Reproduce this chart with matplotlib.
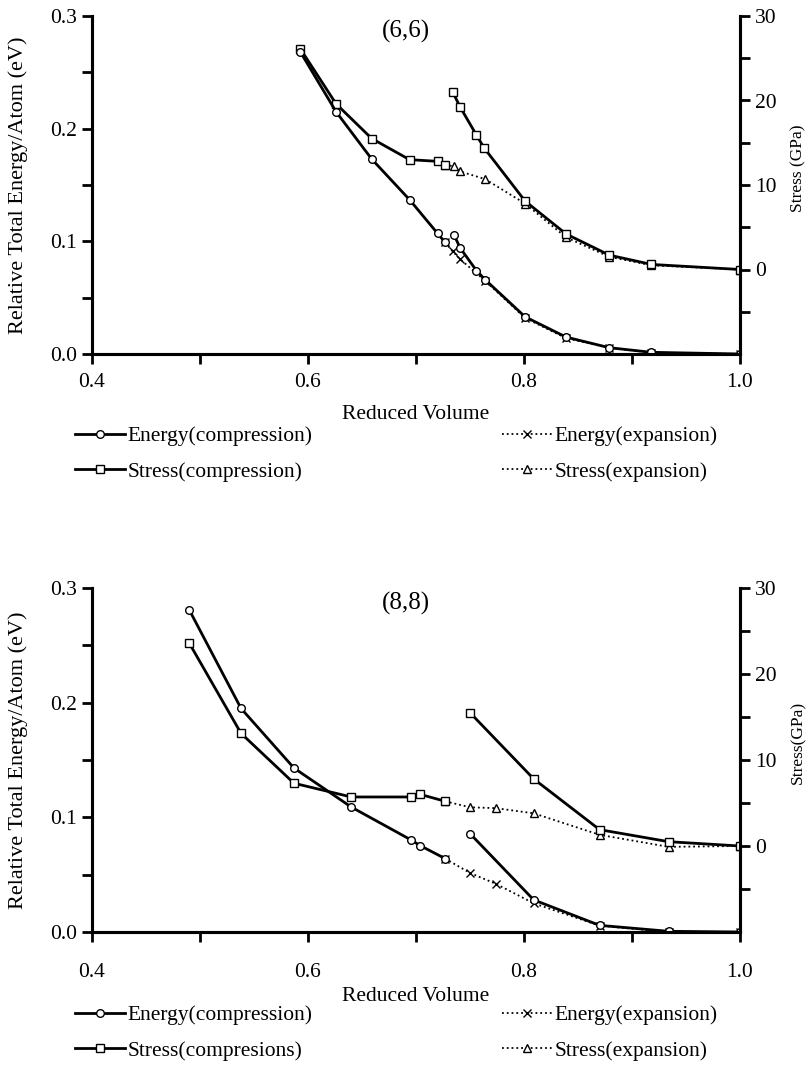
import matplotlib
matplotlib.use("Agg")
import matplotlib.pyplot as plt
from matplotlib.lines import Line2D
from matplotlib.ticker import MultipleLocator, FixedLocator

plt.rcParams['font.family'] = ['Liberation Serif', 'DejaVu Serif']
plt.rcParams['font.size'] = 15.5

# ---- (6,6) tube ----
v66_ecomp1 = [0.593, 0.626, 0.659, 0.694, 0.720, 0.727]
e66_comp1 = [0.268, 0.215, 0.173, 0.137, 0.107, 0.099]
v66_ecomp2 = [0.735, 0.741, 0.756, 0.764, 0.801, 0.839, 0.879, 0.918, 1.0]
e66_comp2 = [0.106, 0.094, 0.074, 0.066, 0.033, 0.015, 0.0056, 0.0015, 0.0]
v66_eexp = [0.727, 0.734, 0.741, 0.764, 0.801, 0.839, 0.879, 0.918, 1.0]
e66_exp = [0.099, 0.091, 0.084, 0.065, 0.032, 0.014, 0.0055, 0.0012, 0.0]

v66_scomp1 = [0.593, 0.626, 0.659, 0.694, 0.720, 0.727]
s66_comp1 = [26.1, 19.6, 15.5, 13.0, 12.8, 12.4]
v66_scomp2 = [0.734, 0.741, 0.756, 0.763, 0.801, 0.839, 0.879, 0.918, 1.0]
s66_comp2 = [21.0, 19.2, 15.9, 14.4, 8.1, 4.2, 1.7, 0.6, 0.0]
v66_sexp = [0.727, 0.735, 0.741, 0.764, 0.801, 0.839, 0.879, 0.918, 1.0]
s66_exp = [12.4, 12.2, 11.6, 10.7, 7.8, 3.8, 1.5, 0.5, 0.0]

# ---- (8,8) tube ----
v88_ecomp1 = [0.490, 0.538, 0.587, 0.640, 0.695, 0.704, 0.727]
e88_comp1 = [0.281, 0.195, 0.143, 0.109, 0.0805, 0.0753, 0.064]
v88_ecomp2 = [0.750, 0.809, 0.870, 0.934, 1.0]
e88_comp2 = [0.0858, 0.028, 0.0058, 0.0006, 0.0]
v88_eexp = [0.727, 0.750, 0.774, 0.809, 0.870, 0.934, 1.0]
e88_exp = [0.064, 0.0515, 0.042, 0.025, 0.0055, 0.0, 0.0]

v88_scomp1 = [0.490, 0.538, 0.587, 0.640, 0.695, 0.704, 0.727]
s88_comp1 = [23.6, 13.1, 7.3, 5.7, 5.7, 6.0, 5.2]
v88_scomp2 = [0.750, 0.809, 0.870, 0.934, 1.0]
s88_comp2 = [15.5, 7.8, 1.9, 0.5, 0.0]
v88_sexp = [0.727, 0.750, 0.774, 0.809, 0.870, 0.934, 1.0]
s88_exp = [5.2, 4.5, 4.4, 3.8, 1.3, -0.1, 0.0]

W, H = 809, 1065
fig = plt.figure(figsize=(W / 100, H / 100), dpi=100)

solid = dict(color='black', lw=2.0, ms=5.5, mfc='white', mec='black', mew=1.0)
dotted = dict(color='black', lw=1.3, ls=':', ms=5.5, mfc='white', mec='black', mew=1.0)


def draw_panel(rect, d, tag, ylab_r, tick_pad, xlab_pad, leg_y):
    ax = fig.add_axes(rect)
    ax2 = ax.twinx()
    ax.set_zorder(ax2.get_zorder() + 1)
    ax.patch.set_visible(False)

    ax2.plot(d['vsexp'], d['sexp'], marker='^', **dotted)
    ax2.plot(d['vsc1'], d['sc1'], marker='s', **solid)
    ax2.plot(d['vsc2'], d['sc2'], marker='s', **solid)
    ax.plot(d['veexp'], d['eexp'], marker='x', **dotted)
    ax.plot(d['vec1'], d['ec1'], marker='o', **solid)
    ax.plot(d['vec2'], d['ec2'], marker='o', **solid)

    ax.set_xlim(0.4, 1.0)
    ax.set_ylim(0.0, 0.3)
    ax2.set_ylim(-10, 30)
    for a in (ax, ax2):
        a.spines['top'].set_visible(False)
        for s in ('left', 'right', 'bottom'):
            a.spines[s].set_linewidth(2.2)
    ax.xaxis.set_major_locator(FixedLocator([0.4, 0.6, 0.8, 1.0]))
    ax.xaxis.set_minor_locator(FixedLocator([0.5, 0.7, 0.9]))
    ax.yaxis.set_major_locator(MultipleLocator(0.1))
    ax.yaxis.set_minor_locator(MultipleLocator(0.05))
    ax2.yaxis.set_major_locator(FixedLocator([0, 10, 20, 30]))
    ax2.yaxis.set_minor_locator(FixedLocator([-5, 5, 15, 25]))
    ax.xaxis.set_major_formatter(plt.FuncFormatter(lambda v, p: '%.1f' % v))
    ax.yaxis.set_major_formatter(plt.FuncFormatter(lambda v, p: '%.1f' % v))
    ax2.yaxis.set_major_formatter(plt.FuncFormatter(lambda v, p: '%d' % v))
    ax.tick_params(axis='x', which='both', direction='out', length=7, width=2.0, pad=tick_pad)
    ax.tick_params(axis='y', which='both', direction='out', length=7, width=2.0, pad=4)
    ax2.tick_params(axis='y', which='both', direction='out', length=7, width=2.0, pad=4)

    ax.set_xlabel('Reduced Volume', labelpad=xlab_pad)
    ax.set_ylabel('Relative Total Energy/Atom (eV)', fontsize=16)
    ax.yaxis.set_label_coords(-0.099, 0.5)
    ax2.set_ylabel(ylab_r, fontsize=12.5)
    ax2.yaxis.set_label_coords(1.077, 0.55)
    ax.text(0.691, 0.2866, tag, ha='center', va='center', fontsize=18)

    h_ec = Line2D([], [], marker='o', **solid)
    h_sc = Line2D([], [], marker='s', **solid)
    h_ee = Line2D([], [], marker='x', **dotted)
    h_se = Line2D([], [], marker='^', **dotted)
    common = dict(frameon=False, numpoints=1, handlelength=2.3, handletextpad=0.15,
                  labelspacing=0.72, borderpad=0, borderaxespad=0, loc='upper left')
    fig.legend([h_ec, h_sc], ['Energy(compression)', d['lab_sc']],
               bbox_to_anchor=(75 / W, 1 - leg_y / H), **common)
    fig.legend([h_ee, h_se], ['Energy(expansion)', 'Stress(expansion)'],
               bbox_to_anchor=(502 / W, 1 - leg_y / H), **common)
    return ax


d66 = dict(vec1=v66_ecomp1, ec1=e66_comp1, vec2=v66_ecomp2, ec2=e66_comp2,
           veexp=v66_eexp, eexp=e66_exp, vsc1=v66_scomp1, sc1=s66_comp1,
           vsc2=v66_scomp2, sc2=s66_comp2, vsexp=v66_sexp, sexp=s66_exp,
           lab_sc='Stress(compression)')
d88 = dict(vec1=v88_ecomp1, ec1=e88_comp1, vec2=v88_ecomp2, ec2=e88_comp2,
           veexp=v88_eexp, eexp=e88_exp, vsc1=v88_scomp1, sc1=s88_comp1,
           vsc2=v88_scomp2, sc2=s88_comp2, vsexp=v88_sexp, sexp=s88_exp,
           lab_sc='Stress(compresions)')

draw_panel([92 / W, 1 - 354 / H, 648 / W, 338 / H], d66, '(6,6)', 'Stress (GPa)', 7, 9, 426)
draw_panel([92 / W, 1 - 932 / H, 648 / W, 344 / H], d88, '(8,8)', 'Stress(GPa)', 15, 4, 1005)

fig.savefig('out.png', dpi=100)
